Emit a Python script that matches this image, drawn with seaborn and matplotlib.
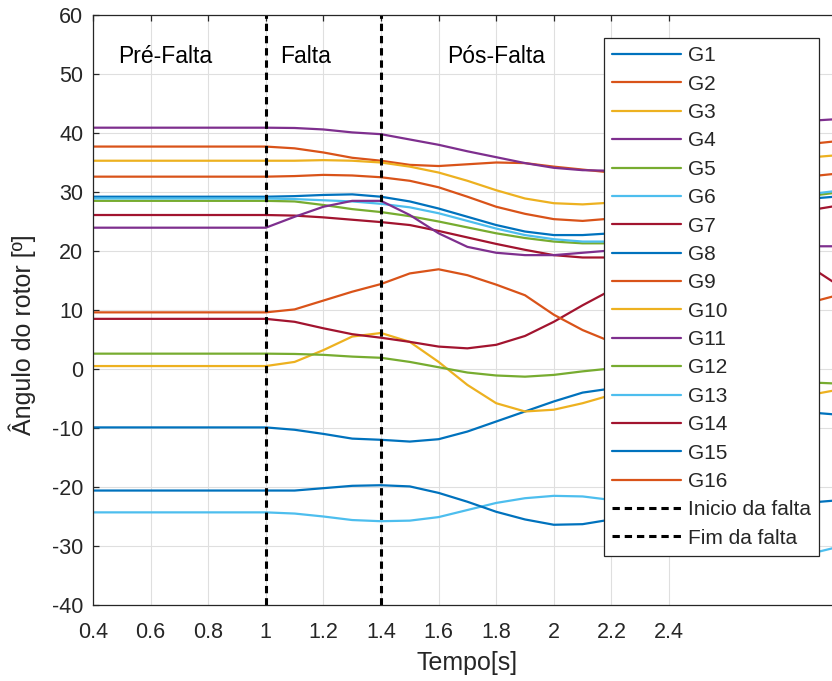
import numpy as np
import pandas as pd
import matplotlib
matplotlib.use("Agg")
import matplotlib.pyplot as plt
import seaborn as sns

# time instants (s)
tempo = [0.4, 0.5, 0.6, 0.7, 0.8, 0.9, 1.0, 1.1, 1.2, 1.3, 1.4, 1.5, 1.6, 1.7,
         1.8, 1.9, 2.0, 2.1, 2.2, 2.3, 2.4, 2.5, 2.6, 2.7, 2.8, 2.9, 3.0]

# rotor angle of each generator (degrees)
g1 = [29.2] * 7 + [29.3, 29.5, 29.6, 29.2, 28.4, 27.2, 25.8, 24.4, 23.3, 22.7, 22.7,
                   23.0, 23.8, 24.8, 25.8, 26.8, 27.6, 28.3, 28.9, 29.3]
g2 = [37.7] * 7 + [37.4, 36.7, 35.8, 35.3, 34.6, 34.4, 34.7, 35.0, 34.9, 34.3, 33.8,
                   33.3, 33.3, 33.8, 34.6, 35.6, 36.6, 37.5, 38.2, 38.7]
g3 = [35.3] * 7 + [35.3, 35.4, 35.3, 35.0, 34.3, 33.3, 31.9, 30.3, 28.9, 28.1, 27.9,
                   28.2, 29.2, 30.5, 31.9, 33.2, 34.4, 35.3, 35.9, 36.3]
g4 = [40.9] * 7 + [40.85, 40.6, 40.1, 39.8, 38.9, 38.0, 36.9, 35.9, 34.9, 34.1, 33.7,
                   33.6, 34.5, 36.0, 37.5, 39.0, 40.5, 41.5, 42.1, 42.4]
g5 = [28.5] * 7 + [28.4, 27.8, 27.1, 26.6, 25.9, 25.0, 24.0, 23.0, 22.2, 21.6, 21.3,
                   21.3, 22.0, 23.2, 24.6, 26.0, 27.3, 28.5, 29.4, 30.0]
g6 = [28.9] * 7 + [28.8, 28.6, 28.4, 28.0, 27.4, 26.4, 25.1, 23.8, 22.7, 22.0, 21.6,
                   21.6, 22.5, 23.8, 25.2, 26.6, 27.8, 28.9, 29.7, 30.3]
g7 = [26.1] * 7 + [26.0, 25.7, 25.3, 24.9, 24.4, 23.4, 22.3, 21.2, 20.2, 19.3, 18.9,
                   18.9, 19.5, 20.6, 22.0, 23.4, 24.8, 26.0, 27.0, 27.8]
g8 = [-9.9] * 7 + [-10.3, -11.0, -11.8, -12.0, -12.3, -11.9, -10.6, -8.9, -7.2, -5.5,
                   -4.0, -3.3, -3.0, -3.2, -3.8, -4.7, -5.7, -6.7, -7.4, -7.8]
g9 = [32.6] * 7 + [32.7, 32.9, 32.8, 32.5, 31.9, 30.8, 29.2, 27.5, 26.3, 25.4, 25.1,
                   25.5, 26.4, 27.5, 28.7, 29.9, 31.0, 32.0, 32.7, 33.2]
g10 = [0.5] * 7 + [1.2, 3.2, 5.5, 6.1, 4.6, 1.2, -2.7, -5.8, -7.2, -6.9, -5.8,
                   -4.4, -3.2, -2.5, -2.3, -2.6, -3.3, -4.0, -4.3, -3.4]
g11 = [23.95] * 7 + [25.8, 27.5, 28.5, 28.5, 26.1, 23.0, 20.7, 19.7, 19.3, 19.3, 19.7,
                     20.1, 20.5, 20.8, 21.0, 21.1, 21.0, 20.9, 20.8, 20.8]
g12 = [2.6] * 7 + [2.55, 2.4, 2.1, 1.9, 1.2, 0.3, -0.6, -1.1, -1.3, -1.0, -0.4,
                   0.1, 0.2, 0.0, -0.4, -0.9, -1.4, -1.9, -2.3, -2.5]
g13 = [-24.3] * 7 + [-24.5, -25.0, -25.6, -25.8, -25.7, -25.1, -23.9, -22.7, -21.9,
                     -21.5, -21.6, -22.2, -23.5, -25.2, -27.0, -28.7, -30.0, -30.9,
                     -31.2, -30.0]
g14 = [8.5] * 7 + [8.0, 6.9, 5.9, 5.3, 4.6, 3.8, 3.5, 4.1, 5.6, 8.0, 10.8,
                   13.4, 15.5, 17.2, 18.3, 18.8, 18.6, 17.9, 17.0, 13.8]
g15 = [-20.6] * 7 + [-20.6, -20.2, -19.8, -19.7, -19.9, -21.0, -22.5, -24.2, -25.5,
                     -26.4, -26.3, -25.5, -24.5, -23.8, -23.4, -23.2, -23.1, -22.9,
                     -22.6, -22.2]
g16 = [9.6] * 7 + [10.1, 11.6, 13.1, 14.4, 16.2, 16.9, 15.9, 14.3, 12.5, 9.2, 6.6,
                   4.6, 3.3, 3.3, 4.3, 6.0, 7.9, 9.8, 11.4, 12.7]

geradores = ["G1", "G2", "G3", "G4", "G5", "G6", "G7", "G8",
             "G9", "G10", "G11", "G12", "G13", "G14", "G15", "G16"]
angulos = [g1, g2, g3, g4, g5, g6, g7, g8, g9, g10, g11, g12, g13, g14, g15, g16]

inicio_falta = 1.0
fim_falta = 1.4

xticks = [0.4, 0.6, 0.8, 1.0, 1.2, 1.4, 1.6, 1.8, 2.0, 2.2, 2.4]
xtick_labels = ["0.4", "0.6", "0.8", "1", "1.2", "1.4", "1.6", "1.8", "2", "2.2", "2.4"]
yticks = [-40, -30, -20, -10, 0, 10, 20, 30, 40, 50, 60]

cores = ["#0072BD", "#D95319", "#EDB120", "#7E2F8E", "#77AC30", "#4DBEEE", "#A2142F"]

sns.set_theme(style="white")
plt.rcParams["font.family"] = ["Liberation Sans", "DejaVu Sans"]
plt.rcParams["axes.unicode_minus"] = False

df = pd.DataFrame({
    "Tempo": np.tile(tempo, len(geradores)),
    "Angulo": np.concatenate(angulos),
    "Gerador": np.repeat(geradores, len(tempo)),
})

fig = plt.figure(figsize=(8.32, 6.81), dpi=100)
ax = fig.add_axes([93 / 832, 1 - 605 / 681, 748.8 / 832, 590 / 681])

cinza = "#262626"
for i, g in enumerate(geradores):
    sub = df[df["Gerador"] == g]
    sns.lineplot(data=sub, x="Tempo", y="Angulo", color=cores[i % 7], linewidth=1.6,
                 label=g, ax=ax, estimator=None, sort=False)

ax.axvline(inicio_falta, color="black", linewidth=2.2, linestyle=(0, (2.4, 1.6)),
           label="Inicio da falta")
ax.axvline(fim_falta, color="black", linewidth=2.2, linestyle=(0, (2.4, 1.6)),
           label="Fim da falta")

ax.set_xlim(0.4, 3.0)
ax.set_ylim(-40, 60)
ax.set_xticks(xticks)
ax.set_xticklabels(xtick_labels)
ax.set_yticks(yticks)
ax.grid(True, color="#DFDFDF", linewidth=0.8)
ax.set_axisbelow(True)

for s in ["left", "bottom", "top", "right"]:
    ax.spines[s].set_color(cinza)
    ax.spines[s].set_linewidth(0.9)
ax.tick_params(axis="both", direction="in", length=4, width=0.9, color=cinza,
               labelcolor=cinza, labelsize=15.5)
ax.tick_params(axis="x", top=True, pad=12)
ax.tick_params(axis="y", left=True, pad=7)

ax.set_xlabel("Tempo[s]", fontsize=18, color=cinza)
ax.xaxis.set_label_coords(0.5, -0.098)
ax.xaxis.label.set_va("center")
ax.set_ylabel("Ângulo do rotor [º]", fontsize=18, color=cinza)
ax.yaxis.set_label_coords(-0.095, 0.458)
ax.yaxis.label.set_va("center")

ax.text(0.487, 52.9, "Pré-Falta", fontsize=16.5, color="black", va="center", ha="left")
ax.text(1.049, 52.9, "Falta", fontsize=16.5, color="black", va="center", ha="left")
ax.text(1.629, 52.9, "Pós-Falta", fontsize=16.5, color="black", va="center", ha="left")

leg = ax.legend(loc="upper right", bbox_to_anchor=(819 / 832, 1 - 38 / 681),
                bbox_transform=fig.transFigure, borderaxespad=0, frameon=True,
                fancybox=False, framealpha=1, edgecolor=cinza, fontsize=15,
                handlelength=3.3, handletextpad=0.34, labelspacing=0.45, borderpad=0.4)
leg.get_frame().set_linewidth(0.9)

fig.savefig("out.png", dpi=100)
